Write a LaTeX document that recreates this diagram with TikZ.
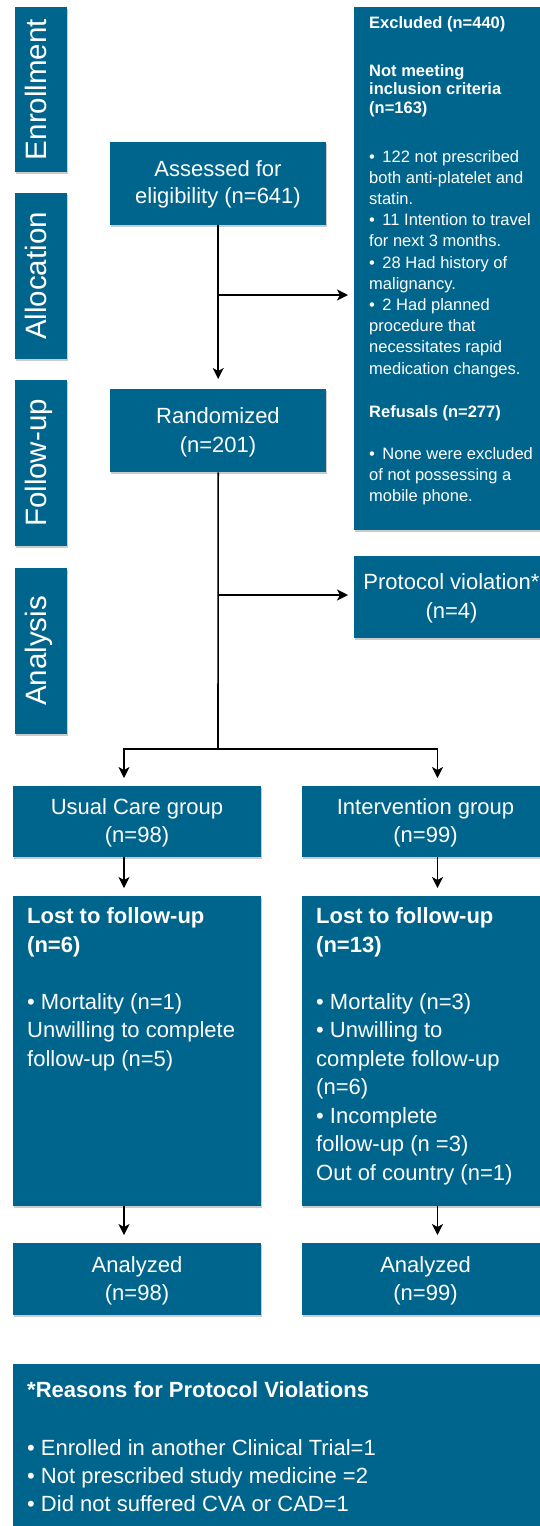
\documentclass[tikz,border=0pt]{standalone}
\usepackage{fontspec}
\setmainfont{Liberation Sans}
\usetikzlibrary{arrows.meta,shadows}
\definecolor{boxblue}{RGB}{0,101,140}
\newcommand\fsA{\fontsize{22}{28.5}\selectfont}
\newcommand\fsR{\fontsize{22}{28}\selectfont}
\newcommand\fsS{\fontsize{16.5}{21.2}\selectfont}
\newcommand\fsL{\fontsize{29.5}{32}\selectfont}
\newcommand\bx{•\hspace{7.5pt}}
\begin{document}
\begin{tikzpicture}[x=1pt,y=-1pt,
  box/.style={fill=boxblue, draw=none, inner sep=0pt, anchor=north west,
    drop shadow={shadow xshift=1pt, shadow yshift=-1.5pt, fill=black!45, opacity=0.45}},
  txt/.style={text=white, inner sep=0pt, anchor=base},
  ltxt/.style={text=white, inner sep=0pt, anchor=base west},
  ln/.style={draw=black, line width=1.6pt},
  arr/.style={draw=black, line width=1.6pt, -{Stealth[length=11pt,width=11pt,inset=3pt]}, shorten >=8pt}]
\useasboundingbox (0,0) rectangle (540,1526);
\clip (0,0) rectangle (540,1526);
\fill[white] (0,0) rectangle (540,1526);

% stage labels
\node[box, minimum width=52pt, minimum height=165pt] (enr) at (15,7) {};
\node[box, minimum width=52pt, minimum height=166pt] (alloc) at (15,193) {};
\node[box, minimum width=52pt, minimum height=166pt] (fup) at (15,380) {};
\node[box, minimum width=52pt, minimum height=166pt] (anal) at (15,568) {};
\node[txt, rotate=90] (enrT) at (46,89.5) {\fsL Enrollment};
\node[txt, rotate=90] (allocT) at (46,276) {\fsL Allocation};
\node[txt, rotate=90] (fupT) at (46,463) {\fsL Follow-up};
\node[txt, rotate=90] (analT) at (46,651) {\fsL Analysis};

% main boxes
\node[box, minimum width=216pt, minimum height=83pt] (assess) at (110,142) {};
\node[box, minimum width=216pt, minimum height=83pt] (rand) at (110,389) {};
\node[box, minimum width=200pt, minimum height=523pt] (excl) at (354,7) {};
\node[box, minimum width=195pt, minimum height=82pt] (prot) at (354,556) {};
\node[box, minimum width=248pt, minimum height=71pt] (usual) at (13,786) {};
\node[box, minimum width=247pt, minimum height=71pt] (interv) at (302,786) {};
\node[box, minimum width=248pt, minimum height=310pt] (lost1) at (13,896) {};
\node[box, minimum width=247pt, minimum height=310pt] (lost2) at (302,896) {};
\node[box, minimum width=248pt, minimum height=72pt] (an1) at (13,1243) {};
\node[box, minimum width=247pt, minimum height=72pt] (an2) at (302,1243) {};
\node[box, minimum width=540pt, minimum height=170pt] (reas) at (13,1364) {};

% texts
\node[txt] (assessT) at (218,176) {\parbox[t]{210pt}{\centering\fsA Assessed for\\[-1pt]eligibility (n=641)}};
\node[txt] (randT) at (218,423) {\parbox[t]{210pt}{\centering\fsA Randomized\\[0.5pt](n=201)}};
\node[txt] (protT) at (451.5,589) {\parbox[t]{195pt}{\centering\fsA Protocol violation*\\[0.5pt](n=4)}};
\node[txt] (usualT) at (137,814) {\parbox[t]{240pt}{\centering\fsA Usual Care group\\[-0.5pt](n=98)}};
\node[txt] (intervT) at (425.5,814) {\parbox[t]{240pt}{\centering\fsA Intervention group\\[-0.5pt](n=99)}};
\node[txt] (an1T) at (137,1272) {\parbox[t]{240pt}{\centering\fsA Analyzed\\[-0.5pt](n=98)}};
\node[txt] (an2T) at (425.5,1272) {\parbox[t]{240pt}{\centering\fsA Analyzed\\[-0.5pt](n=99)}};

\node[ltxt] (exclT) at (369,28) {\parbox[t]{200pt}{\raggedright\fsS
\textbf{Excluded (n=440)}\\[26.8pt]
\textbf{Not meeting}\\[-2.7pt]
\textbf{inclusion criteria}\\[-2.7pt]
\textbf{(n=163)}\\[27.8pt]
\bx 122 not prescribed\\
both anti-platelet and\\
statin.\\
\bx 11 Intention to travel\\
for next 3 months.\\
\bx 28 Had history of\\
malignancy.\\
\bx 2 Had planned\\
procedure that\\
necessitates rapid\\
medication changes.\\[21.8pt]
\textbf{Refusals (n=277)}\\[20.8pt]
\bx None were excluded\\
of not possessing a\\
mobile phone.}};

\node[ltxt] (lost1T) at (27,923) {\parbox[t]{228pt}{\raggedright\fsA
\textbf{Lost to follow-up}\\[0.5pt]
\textbf{(n=6)}\\[28.5pt]
• Mortality (n=1)\\
Unwilling to complete\\
follow-up (n=5)}};

\node[ltxt] (lost2T) at (316,923) {\parbox[t]{228pt}{\raggedright\fsA
\textbf{Lost to follow-up}\\[0.5pt]
\textbf{(n=13)}\\[28.5pt]
• Mortality (n=3)\\
• Unwilling to\\
complete follow-up\\
(n=6)\\
• Incomplete\\
follow-up (n =3)\\
Out of country (n=1)}};

\node[ltxt] (reasT) at (27,1397) {\parbox[t]{500pt}{\raggedright\fsR
\textbf{*Reasons for Protocol Violations}\\[30pt]
• Enrolled in another Clinical Trial=1\\
• Not prescribed study medicine =2\\
• Did not suffered CVA or CAD=1}};

% connectors
\coordinate (j1) at (218,295);
\coordinate (j2) at (218,595);
\coordinate (j3) at (218,749);
\coordinate (cL) at (124,749);
\coordinate (cR) at (437.5,749);
\draw[arr, shorten >=10pt] (assess.south) -- (rand.north);
\draw[arr, shorten >=6pt] (j1) -- (j1 -| excl.west);
\draw[ln] (rand.south) -- (j3);
\draw[arr, shorten >=6pt] (j2) -- (j2 -| prot.west);
\draw[arr] (j3) -| (usual.north -| cL);
\draw[arr] (j3) -| (interv.north -| cR);
\draw[arr] (usual.south -| cL) -- (lost1.north -| cL);
\draw[arr] (interv.south -| cR) -- (lost2.north -| cR);
\draw[arr] (lost1.south -| cL) -- (an1.north -| cL);
\draw[arr] (lost2.south -| cR) -- (an2.north -| cR);
\end{tikzpicture}
\end{document}
